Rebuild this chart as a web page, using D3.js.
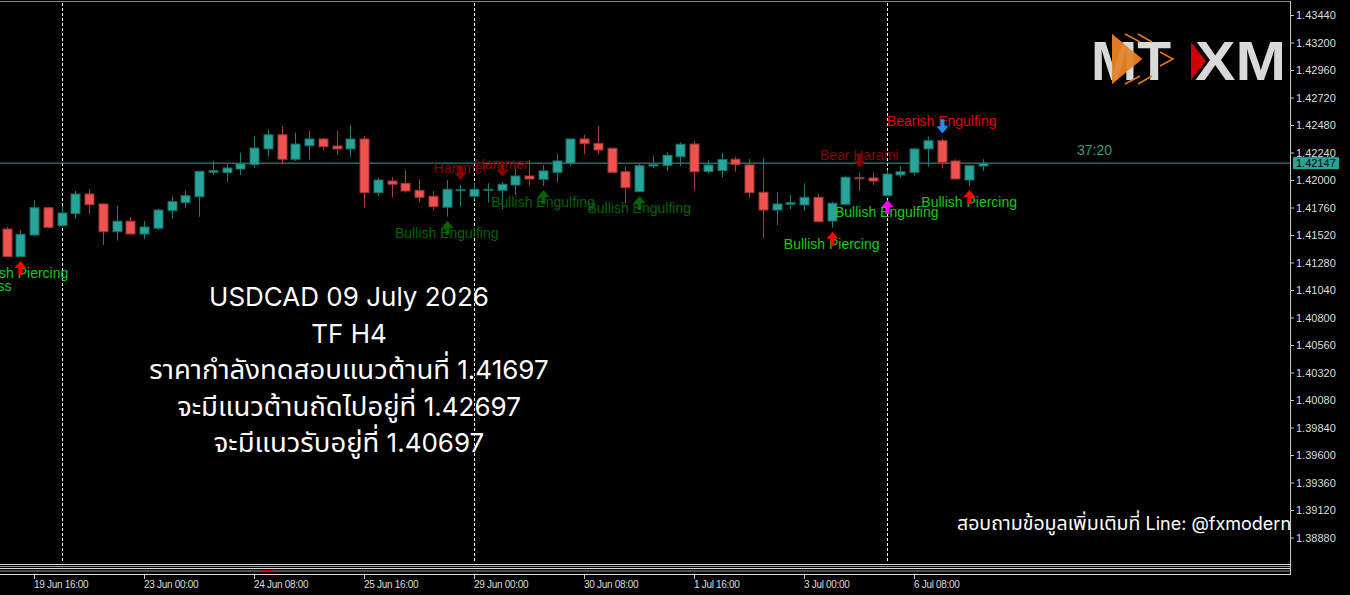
<!DOCTYPE html>
<html>
<head>
<meta charset="utf-8">
<script src="https://cdn.jsdelivr.net/npm/d3@7"></script>
<style>
  html, body { margin: 0; padding: 0; background: #000; overflow: hidden; }
  svg { display: block; }
</style>
</head>
<body>
<svg id="chart" width="1350" height="595"></svg>
<script>
// USDCAD H4 candles (index 0 = 19 Jun 08:00)
const opens  = [1.41572,1.41331,1.41520,1.41758,1.41601,1.41706,1.41878,1.41791,1.41549,1.41640,
                1.41529,1.41579,1.41732,1.41802,1.41854,1.42067,1.42064,1.42096,1.42134,1.42271,
                1.42395,1.42181,1.42299,1.42358,1.42297,1.42271,1.42358,1.41889,1.41991,1.41971,
                1.41910,1.41858,1.41762,1.41910,1.41858,1.41913,1.41910,1.41956,1.42035,1.42006,
                1.42067,1.42146,1.42358,1.42320,1.42277,1.42072,1.41898,1.42122,1.42128,1.42203,
                1.42314,1.42074,1.42083,1.42181,1.42131,1.41893,1.41738,1.41788,1.41782,1.41849,
                1.41642,1.41788,1.42020,1.42018,1.41863,1.42044,1.42067,1.42271,1.42343,1.42166,
                1.42000,1.42122];
const highs  = [1.41592,1.41564,1.41826,1.41767,1.41773,1.41904,1.41922,1.41795,1.41773,1.41675,
                1.41642,1.41750,1.41858,1.41910,1.42078,1.42166,1.42142,1.42238,1.42384,1.42443,
                1.42471,1.42413,1.42428,1.42367,1.42428,1.42480,1.42384,1.42020,1.42024,1.42087,
                1.42006,1.41904,1.42000,1.41956,1.41971,1.41971,1.41985,1.42096,1.42175,1.42131,
                1.42224,1.42362,1.42393,1.42471,1.42279,1.42116,1.42142,1.42212,1.42242,1.42329,
                1.42340,1.42175,1.42238,1.42203,1.42183,1.42189,1.41893,1.41869,1.41971,1.41878,
                1.41811,1.42038,1.42064,1.42067,1.42087,1.42122,1.42282,1.42378,1.42364,1.42181,
                1.42127,1.42181];
const lows   = [1.41328,1.41328,1.41514,1.41581,1.41598,1.41662,1.41706,1.41433,1.41470,1.41524,
                1.41483,1.41564,1.41662,1.41758,1.41680,1.42044,1.41985,1.42044,1.42105,1.42203,
                1.42142,1.42166,1.42181,1.42262,1.42218,1.42203,1.41758,1.41860,1.41849,1.41889,
                1.41802,1.41730,1.41680,1.41767,1.41832,1.41802,1.41744,1.41869,1.41950,1.41948,
                1.41985,1.42125,1.42224,1.42224,1.42064,1.41797,1.41895,1.42102,1.42079,1.42122,
                1.41904,1.42058,1.42024,1.42072,1.41846,1.41491,1.41607,1.41744,1.41732,1.41627,
                1.41584,1.41776,1.41904,1.41956,1.41860,1.42020,1.42038,1.42116,1.42102,1.42005,
                1.41948,1.42079];
const closes = [1.41331,1.41526,1.41758,1.41587,1.41712,1.41878,1.41785,1.41549,1.41640,1.41529,
                1.41590,1.41738,1.41811,1.41863,1.42076,1.42081,1.42105,1.42142,1.42279,1.42395,
                1.42181,1.42314,1.42358,1.42291,1.42271,1.42358,1.41889,1.42000,1.41963,1.41904,
                1.41849,1.41767,1.41919,1.41915,1.41919,1.41919,1.41963,1.42035,1.42009,1.42079,
                1.42166,1.42358,1.42317,1.42262,1.42067,1.41933,1.42125,1.42134,1.42216,1.42312,
                1.42072,1.42131,1.42179,1.42137,1.41889,1.41738,1.41791,1.41802,1.41849,1.41636,
                1.41797,1.42024,1.42011,1.41991,1.42052,1.42072,1.42271,1.42343,1.42155,1.42009,
                1.42125,1.42147];

const xTickIdx    = [2, 10, 18, 26, 34, 42, 50, 58, 66];
const xTickLabels = ['19 Jun 16:00','23 Jun 00:00','24 Jun 08:00','25 Jun 16:00','29 Jun 00:00',
                     '30 Jun 08:00','1 Jul 16:00','3 Jul 00:00','6 Jul 08:00'];
const weekStartIdx = [4, 34, 64];
const yTicks = [1.43440,1.43200,1.42960,1.42720,1.42480,1.42240,1.42000,1.41760,1.41520,1.41280,
                1.41040,1.40800,1.40560,1.40320,1.40080,1.39840,1.39600,1.39360,1.39120,1.38880];
const lastPrice = 1.42147;
const timer = '37:20';

// candle patterns found by the indicator
const patterns = [
  { i: -4.4, name: 'Bullish Harami Cross', dir: 'up', kind: 'pierce', row: 1, noArrow: true },
  { i: 1,  name: 'Bullish Piercing',  dir: 'up',   kind: 'pierce' },
  { i: 32, name: 'Bullish Engulfing', dir: 'up',   kind: 'engulfOld' },
  { i: 33, name: 'Hammer',            dir: 'down', kind: 'hammer' },
  { i: 36, name: 'Hammer',            dir: 'down', kind: 'hammer' },
  { i: 39, name: 'Bullish Engulfing', dir: 'up',   kind: 'engulfOld' },
  { i: 46, name: 'Bullish Engulfing', dir: 'up',   kind: 'engulfOld' },
  { i: 60, name: 'Bullish Piercing',  dir: 'up',   kind: 'pierce' },
  { i: 62, name: 'Bear Harami',       dir: 'down', kind: 'hammer' },
  { i: 64, name: 'Bullish Engulfing', dir: 'up',   kind: 'engulfNew' },
  { i: 68, name: 'Bearish Engulfing', dir: 'down', kind: 'bearEngulf' },
  { i: 70, name: 'Bullish Piercing',  dir: 'up',   kind: 'pierce' }
];

const noteLines = [
  'USDCAD 09 July 2026',
  'TF H4',
  'ราคากำลังทดสอบแนวต้านที่ 1.41697',
  'จะมีแนวต้านถัดไปอยู่ที่ 1.42697',
  'จะมีแนวรับอยู่ที่ 1.40697'
];
const contactText = 'สอบถามข้อมูลเพิ่มเติมที่ Line: @fxmodern';

// ---------------------------------------------------------------
const plotRight = 1290, plotBottom = 563;
const kindStyle = {
  pierce:     { text: '#14cc14', arrow: '#ff0000' },
  engulfOld:  { text: '#006400', arrow: '#006400' },
  engulfNew:  { text: '#14cc14', arrow: '#ff00ff' },
  hammer:     { text: '#8b0000', arrow: '#8b0000' },
  bearEngulf: { text: '#e00000', arrow: '#1e90ff' }
};

const svg = d3.select('#chart');
svg.append('rect').attr('width', 1350).attr('height', 595).attr('fill', '#000');

svg.append('defs').append('clipPath').attr('id', 'plot')
  .append('rect').attr('x', 0).attr('y', 0).attr('width', plotRight).attr('height', plotBottom);

const x = d3.scaleLinear().domain([0, 71]).range([6.7, 6.7 + 71 * 13.75]);
const y = d3.scaleLinear().domain([1.43440, 1.38880]).range([15, 537.5]);

const plot = svg.append('g').attr('clip-path', 'url(#plot)');

// weekly separators
plot.selectAll('line.sep')
  .data(weekStartIdx)
  .join('line')
    .attr('class', 'sep')
    .attr('x1', d => Math.round(x(d)) + 0.5)
    .attr('x2', d => Math.round(x(d)) + 0.5)
    .attr('y1', 3).attr('y2', plotBottom)
    .attr('stroke', '#fff')
    .attr('stroke-dasharray', '3,2');

// bid line
plot.append('line')
  .attr('x1', 0).attr('x2', plotRight)
  .attr('y1', y(lastPrice)).attr('y2', y(lastPrice))
  .attr('stroke', '#26a69a').attr('stroke-width', 1);

plot.append('text')
  .attr('x', 1077).attr('y', 155)
  .attr('fill', '#3c9f6f')
  .style('font', '14px "Liberation Sans", Arial, sans-serif')
  .text(timer);

// candles
const candles = d3.range(opens.length).map(i => ({
  i, o: opens[i], h: highs[i], l: lows[i], c: closes[i], up: closes[i] >= opens[i]
}));

const cg = plot.selectAll('g.candle')
  .data(candles)
  .join('g')
    .attr('class', 'candle');

cg.append('line')
  .attr('x1', d => Math.round(x(d.i)) + 0.5)
  .attr('x2', d => Math.round(x(d.i)) + 0.5)
  .attr('y1', d => y(d.h))
  .attr('y2', d => y(d.l))
  .attr('stroke', d => d.up ? '#1e7d73' : '#b03a38');

cg.append('rect')
  .attr('x', d => Math.round(x(d.i)) - 4)
  .attr('y', d => y(Math.max(d.o, d.c)))
  .attr('width', 9)
  .attr('height', d => Math.max(1, Math.abs(y(d.o) - y(d.c))))
  .attr('fill', d => d.up ? '#26a69a' : '#ef5350')
  .attr('stroke', d => d.up ? '#1a6f67' : '#a03634')
  .attr('stroke-width', 1);

// pattern labels + arrows
function arrowPath(dir) {
  // thick arrow, 12 wide, 14 tall, origin at tip
  return dir === 'up'
    ? 'M0,0 L6,7 L2,7 L2,14 L-2,14 L-2,7 L-6,7 Z'
    : 'M0,0 L6,-7 L2,-7 L2,-14 L-2,-14 L-2,-7 L-6,-7 Z';
}

const pg = plot.selectAll('g.pat')
  .data(patterns)
  .join('g')
    .attr('class', 'pat');

pg.append('text')
  .attr('x', d => x(d.i))
  .attr('y', d => {
    const k = Math.min(Math.max(Math.round(d.i), 0), opens.length - 1);
    return d.dir === 'up'
      ? y(lows[k]) + 21 + 13 * (d.row || 0)
      : y(highs[k]) - 12.5;
  })
  .attr('text-anchor', 'middle')
  .attr('fill', d => kindStyle[d.kind].text)
  .style('font', '14px "Liberation Sans", Arial, sans-serif')
  .text(d => d.name);

pg.filter(d => !d.noArrow).append('path')
  .attr('transform', d => d.dir === 'up'
    ? `translate(${Math.round(x(d.i)) + 0.5},${y(lows[d.i]) + 4})`
    : `translate(${Math.round(x(d.i)) + 0.5},${y(highs[d.i]) - 5})`)
  .attr('d', d => arrowPath(d.dir))
  .attr('fill', d => kindStyle[d.kind].arrow);

// Thai runs and Latin runs get their own size so the mix looks like the original font
function mixedText(sel, str, thaiPx, latinPx) {
  str.split(/([\u0E00-\u0E7F]+)/).filter(s => s.length).forEach(part => {
    const thai = /[\u0E00-\u0E7F]/.test(part);
    sel.append('tspan')
      .style('font-family', thai ? '"Noto Sans Thai", "Noto Sans", sans-serif' : 'Inter, "Open Sans", sans-serif')
      .style('font-size', (thai ? thaiPx : latinPx) + 'px')
      .style('white-space', 'pre')
      .text(part);
  });
}

// note text block
plot.append('g').selectAll('text')
  .data(noteLines)
  .join('text')
    .attr('x', 349)
    .attr('y', (d, i) => 306 + i * 36.5)
    .attr('text-anchor', 'middle')
    .attr('fill', '#fff')
    .style('white-space', 'pre')
    .each(function(d) { mixedText(d3.select(this), d, 27.5, 26); });

const contact = plot.append('text')
  .attr('x', 957).attr('y', 530)
  .attr('fill', '#fff')
  .style('white-space', 'pre');
mixedText(contact, contactText, 19.5, 18);

// logo
const logo = plot.append('g');
logo.append('path')
  .attr('d', 'M1112,34 L1112,84 L1142,59 Z')
  .attr('fill', '#e07a1c');
logo.append('text')
  .attr('x', 1091).attr('y', 80)
  .attr('textLength', 80).attr('lengthAdjust', 'spacingAndGlyphs')
  .attr('fill', '#d9d9d9')
  .style('font', 'bold 56px "Liberation Sans", Arial, sans-serif')
  .text('MT');
logo.append('path')
  .attr('d', 'M1112,34 L1112,84 L1142,59 Z')
  .attr('fill', '#e07a1c').attr('opacity', 0.85);
logo.append('path')
  .attr('d', 'M1125,34 L1140,42 M1138,34 L1152,42 M1160,52 L1173,59 L1160,66 M1125,84 L1140,76 M1138,84 L1152,76')
  .attr('fill', 'none').attr('stroke', '#e07a1c').attr('stroke-width', 1.5);
logo.append('text')
  .attr('x', 1195).attr('y', 80)
  .attr('textLength', 91).attr('lengthAdjust', 'spacingAndGlyphs')
  .attr('fill', '#d9d9d9')
  .style('font', 'bold 56px "Liberation Sans", Arial, sans-serif')
  .text('XM');
logo.append('path')
  .attr('d', 'M1191,42 L1191,80 L1206,61 Z')
  .attr('fill', '#d10000');

// frame and bottom strip
svg.append('line').attr('x1', 0).attr('x2', plotRight).attr('y1', 1.5).attr('y2', 1.5).attr('stroke', '#888');
svg.append('line').attr('x1', plotRight + 0.5).attr('x2', plotRight + 0.5).attr('y1', 1).attr('y2', 575).attr('stroke', '#c8c8c8');
[564.5, 566.5, 568.5, 571, 574.5].forEach((yy, k) => {
  svg.append('line').attr('x1', 0).attr('x2', plotRight).attr('y1', yy).attr('y2', yy)
    .attr('stroke', k % 2 ? '#999' : '#ddd');
});
svg.append('rect').attr('x', 262).attr('y', 570).attr('width', 11).attr('height', 2).attr('fill', '#d00');

// price axis
const yAxis = d3.axisRight(y).tickValues(yTicks).tickSize(4).tickPadding(2).tickFormat(d3.format('.5f'));
const ya = svg.append('g').attr('transform', `translate(${plotRight},0)`).call(yAxis);
ya.select('.domain').remove();
ya.selectAll('line').attr('stroke', '#c8c8c8');
ya.selectAll('text').attr('fill', '#ddd')
  .style('font', '11px "Liberation Sans", Arial, sans-serif');

ya.append('rect')
  .attr('x', 3).attr('y', y(lastPrice) - 6).attr('width', 46).attr('height', 12)
  .attr('fill', '#26a69a');
ya.append('text')
  .attr('x', 6).attr('y', y(lastPrice) + 4)
  .attr('fill', '#000')
  .style('font', '11px "Liberation Sans", Arial, sans-serif')
  .text(d3.format('.5f')(lastPrice));

// time axis
const xa = svg.append('g').attr('transform', 'translate(0,575)');
xa.selectAll('line')
  .data(xTickIdx)
  .join('line')
    .attr('x1', d => Math.round(x(d)) + 0.5)
    .attr('x2', d => Math.round(x(d)) + 0.5)
    .attr('y1', 0).attr('y2', 4)
    .attr('stroke', '#c8c8c8');
xa.selectAll('text')
  .data(xTickIdx)
  .join('text')
    .attr('x', d => Math.round(x(d)))
    .attr('y', 13)
    .attr('fill', '#ddd')
    .style('font', '10px "Liberation Sans", Arial, sans-serif')
    .style('letter-spacing', '-0.3px')
    .text((d, k) => xTickLabels[k]);
</script>
</body>
</html>
